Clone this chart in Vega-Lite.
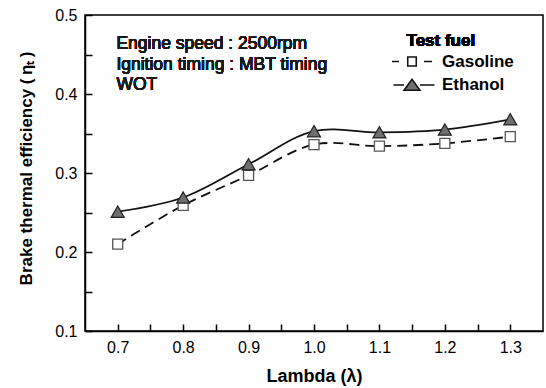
{
  "$schema": "https://vega.github.io/schema/vega-lite/v6.json",
  "width": 458,
  "height": 316,
  "autosize": {"type": "none"},
  "padding": {"left": 85, "top": 15, "right": 3, "bottom": 57},
  "background": "white",
  "config": {
    "view": {"stroke": "#000", "strokeWidth": 1.5},
    "font": "Liberation Sans",
    "axis": {
      "grid": false,
      "domainColor": "#000",
      "domainWidth": 1.5,
      "tickColor": "#000",
      "tickWidth": 1.5,
      "labelColor": "#000",
      "titleColor": "#000",
      "labelFont": "Liberation Sans",
      "titleFont": "Liberation Sans",
      "labelFontSize": 16,
      "titleFontSize": 17,
      "titleFontWeight": "bold"
    },
    "legend": {
      "labelFont": "Liberation Sans",
      "labelFontSize": 17,
      "labelFontWeight": 700,
      "labelColor": "#000"
    }
  },
  "data": {
    "values": [
      {"lambda": 0.7, "eff": 0.210, "fuel": "Gasoline"},
      {"lambda": 0.8, "eff": 0.259, "fuel": "Gasoline"},
      {"lambda": 0.9, "eff": 0.297, "fuel": "Gasoline"},
      {"lambda": 1.0, "eff": 0.336, "fuel": "Gasoline"},
      {"lambda": 1.1, "eff": 0.334, "fuel": "Gasoline"},
      {"lambda": 1.2, "eff": 0.3375, "fuel": "Gasoline"},
      {"lambda": 1.3, "eff": 0.346, "fuel": "Gasoline"},
      {"lambda": 0.7, "eff": 0.251, "fuel": "Ethanol"},
      {"lambda": 0.8, "eff": 0.269, "fuel": "Ethanol"},
      {"lambda": 0.9, "eff": 0.311, "fuel": "Ethanol"},
      {"lambda": 1.0, "eff": 0.353, "fuel": "Ethanol"},
      {"lambda": 1.1, "eff": 0.3515, "fuel": "Ethanol"},
      {"lambda": 1.2, "eff": 0.355, "fuel": "Ethanol"},
      {"lambda": 1.3, "eff": 0.368, "fuel": "Ethanol"}
    ]
  },
  "encoding": {
    "x": {
      "field": "lambda",
      "type": "quantitative",
      "scale": {"domain": [0.65, 1.35], "nice": false, "zero": false},
      "axis": {
        "title": "Lambda (λ)",
        "titleFontSize": 18,
        "values": [0.7, 0.75, 0.8, 0.85, 0.9, 0.95, 1.0, 1.05, 1.1, 1.15, 1.2, 1.25, 1.3],
        "labelExpr": "abs(datum.value*10 - round(datum.value*10)) > 0.25 ? '' : format(datum.value, '.1f')",
        "tickSize": -7,
        "labelPadding": 15,
        "titlePadding": 12,
        "encode": {
          "ticks": {"update": {"y2": {"signal": "abs(datum.value*10 - round(datum.value*10)) > 0.25 ? -4 : -7"}}}
        }
      }
    },
    "y": {
      "field": "eff",
      "type": "quantitative",
      "scale": {"domain": [0.1, 0.5], "nice": false, "zero": false},
      "axis": {
        "title": "Brake thermal efficiency (\u2009ηₜ\u2009)",
        "values": [0.1, 0.15, 0.2, 0.25, 0.3, 0.35, 0.4, 0.45, 0.5],
        "labelExpr": "abs(datum.value*10 - round(datum.value*10)) > 0.25 ? '' : format(datum.value, '.1f')",
        "tickSize": -7,
        "labelPadding": 15,
        "titlePadding": 19,
        "titleY": 153,
        "encode": {
          "ticks": {"update": {"x2": {"signal": "abs(datum.value*10 - round(datum.value*10)) > 0.25 ? 4 : 7"}}}
        }
      }
    }
  },
  "layer": [
    {
      "transform": [{"filter": "datum.fuel === 'Gasoline'"}],
      "mark": {"type": "line", "interpolate": "catmull-rom", "color": "#111", "strokeWidth": 1.8, "strokeDash": [10, 6]}
    },
    {
      "transform": [{"filter": "datum.fuel === 'Ethanol'"}],
      "mark": {"type": "line", "interpolate": "catmull-rom", "color": "#111", "strokeWidth": 1.8}
    },
    {
      "transform": [{"filter": "datum.fuel === 'Gasoline'"}],
      "mark": {"type": "point", "shape": "square", "size": 100, "filled": true, "fill": "white", "stroke": "#555", "strokeWidth": 1.3, "opacity": 1}
    },
    {
      "transform": [{"filter": "datum.fuel === 'Ethanol'"}],
      "mark": {"type": "point", "shape": "triangle-up", "size": 170, "filled": true, "fill": "#6e6e6e", "stroke": "#222", "strokeWidth": 1.2, "opacity": 1}
    },
    {
      "mark": {"type": "point", "filled": true, "opacity": 0, "size": 1},
      "encoding": {
        "shape": {
          "field": "fuel",
          "type": "nominal",
          "scale": {
            "domain": ["Gasoline", "Ethanol"],
            "range": [
              "M-4,0H-2.6M2.4,0H4M-0.85,-0.9H0.85V0.9H-0.85Z",
              "M-3.7,0H-1.6M1.6,0H4.5M-1.6,1.05L0,-1.15L1.6,1.05Z"
            ]
          },
          "legend": {
            "title": null,
            "orient": "none",
            "legendX": 318.5,
            "legendY": 38,
            "symbolSize": 100,
            "labelOffset": 21.5,
            "labelFontSize": 17,
            "labelFontWeight": 700,
            "rowPadding": 5.5,
            "padding": 0,
            "encode": {
              "symbols": {"update": {"opacity": {"value": 1}, "stroke": {"value": "#111"}, "strokeWidth": {"value": 1.5}}},
              "labels": {"update": {"fontWeight": {"value": 700}, "font": {"value": "Liberation Sans"}}}
            }
          }
        },
        "fill": {
          "field": "fuel",
          "type": "nominal",
          "scale": {"domain": ["Gasoline", "Ethanol"], "range": ["white", "#6e6e6e"]},
          "legend": {
            "title": null,
            "orient": "none",
            "legendX": 318.5,
            "legendY": 38,
            "symbolSize": 100,
            "labelOffset": 21.5,
            "labelFontSize": 17,
            "labelFontWeight": 700,
            "rowPadding": 5.5,
            "padding": 0,
            "encode": {
              "symbols": {"update": {"opacity": {"value": 1}, "stroke": {"value": "#111"}, "strokeWidth": {"value": 1.5}}},
              "labels": {"update": {"fontWeight": {"value": 700}, "font": {"value": "Liberation Sans"}}}
            }
          }
        }
      }
    },
    {
      "mark": {"type": "text", "align": "left", "baseline": "middle", "fontSize": 17, "fontWeight": "bold", "font": "Liberation Sans", "color": "#000"},
      "encoding": {"x": {"datum": 1.1414}, "y": {"datum": 0.467}, "text": {"value": "Test fuel"}}
    },
    {
      "mark": {"type": "text", "align": "left", "baseline": "middle", "fontSize": 17.5, "font": "Liberation Sans", "color": "#1a1a1a"},
      "encoding": {"x": {"datum": 0.698}, "y": {"datum": 0.4633}, "text": {"value": "Engine speed : 2500rpm"}}
    },
    {
      "mark": {"type": "text", "align": "left", "baseline": "middle", "fontSize": 17.5, "font": "Liberation Sans", "color": "#1a1a1a"},
      "encoding": {"x": {"datum": 0.698}, "y": {"datum": 0.4373}, "text": {"value": "Ignition timing : MBT timing"}}
    },
    {
      "mark": {"type": "text", "align": "left", "baseline": "middle", "fontSize": 17.5, "font": "Liberation Sans", "color": "#1a1a1a"},
      "encoding": {"x": {"datum": 0.698}, "y": {"datum": 0.4114}, "text": {"value": "WOT"}}
    }
  ]
}
